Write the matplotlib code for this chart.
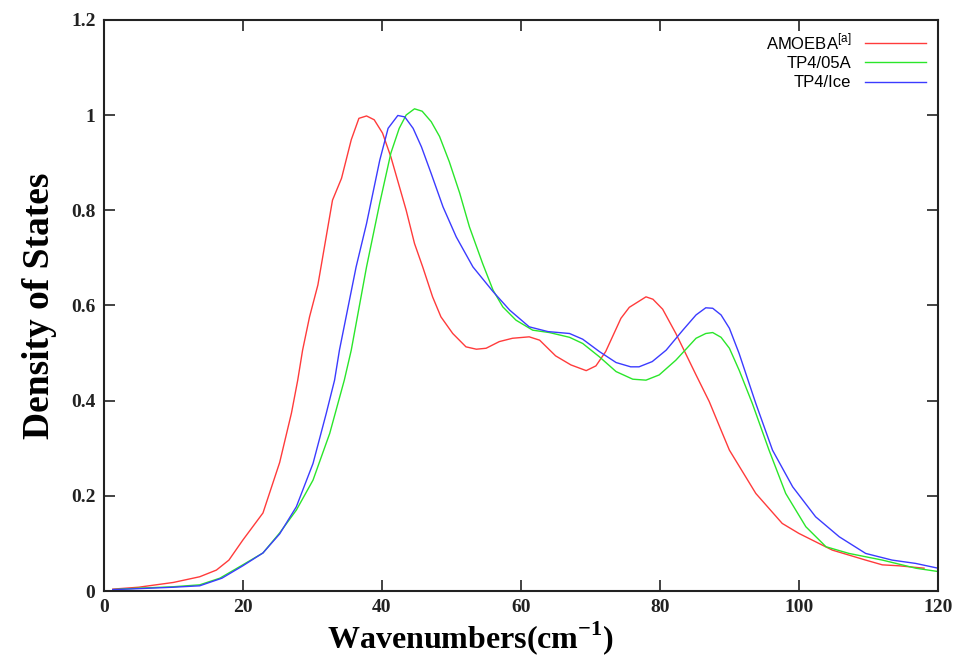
import matplotlib.pyplot as plt

plt.rcParams["mathtext.fontset"] = "custom"
plt.rcParams["mathtext.rm"] = "Liberation Sans"
plt.rcParams["mathtext.bf"] = "Liberation Serif:bold"

# wavenumber (cm^-1) / density of states
amoeba_x = [1.3, 5, 10, 13.8, 16.2, 18, 20, 22.9, 25.3, 27, 27.9, 28.6, 29.6, 30.8, 32.9, 34.2, 35.6, 36.7,
            37.8, 38.9, 40.1, 41.3, 43.5, 44.7, 45.9, 47.3, 48.5, 50.2, 52.1, 53.6, 55, 56.9, 58.8, 61.2,
            62.7, 65, 67.2, 69.4, 70.8, 72.2, 74.4, 75.6, 78, 79, 80.4, 82.3, 85.2, 87.1, 88.8, 90, 93.8,
            97.6, 100, 104.8, 109.6, 112, 114.4, 118]
amoeba_y = [0.004, 0.008, 0.018, 0.03, 0.044, 0.065, 0.107, 0.164, 0.27, 0.374, 0.443, 0.506, 0.576, 0.643,
            0.821, 0.867, 0.948, 0.993, 0.998, 0.99, 0.962, 0.912, 0.80, 0.73, 0.68, 0.618, 0.576, 0.541,
            0.513, 0.508, 0.51, 0.524, 0.531, 0.534, 0.527, 0.494, 0.475, 0.463, 0.473, 0.503, 0.573, 0.596,
            0.618, 0.613, 0.592, 0.541, 0.454, 0.398, 0.338, 0.296, 0.205, 0.142, 0.121, 0.086, 0.065, 0.055,
            0.053, 0.048]

tp4_05a_x = [1.3, 5, 10, 13.8, 16.7, 20, 22.9, 25.3, 27.7, 30.1, 32.5, 34.6, 35.6, 37.8, 39.7, 41.3, 42.5,
             43.5, 44.7, 45.8, 47.1, 48.3, 49.7, 51.2, 52.6, 54.5, 56, 57.4, 59.3, 61.7, 64.1, 67, 68.9,
             71.3, 73.7, 76.1, 78, 79.9, 82.3, 85.2, 86.6, 87.6, 88.8, 90, 91.4, 93.3, 95.7, 98.1, 101,
             103.9, 107.2, 112, 116.8, 120]
tp4_05a_y = [0.003, 0.006, 0.009, 0.013, 0.027, 0.055, 0.08, 0.122, 0.17, 0.233, 0.331, 0.443, 0.506, 0.681,
             0.815, 0.92, 0.972, 1.0, 1.013, 1.008, 0.986, 0.955, 0.902, 0.836, 0.765, 0.688, 0.632, 0.597,
             0.569, 0.548, 0.543, 0.533, 0.52, 0.492, 0.461, 0.445, 0.443, 0.454, 0.485, 0.531, 0.541,
             0.543, 0.533, 0.51, 0.464, 0.394, 0.296, 0.205, 0.135, 0.093, 0.079, 0.065, 0.048, 0.041]

tp4_ice_x = [1.3, 5, 10, 13.8, 17, 20, 22.9, 25.3, 27.7, 30.1, 32, 33.2, 33.9, 36.3, 37.8, 39.7, 40.9, 42.3,
             43.3, 44.5, 45.7, 47.1, 48.8, 50.7, 53.1, 56, 58.4, 61.2, 63.9, 67, 68.9, 71.3, 73.7, 75.8,
             77, 78.9, 80.9, 83.3, 85.2, 86.6, 87.6, 88.8, 90, 91.4, 93.8, 96.2, 99.1, 102.4, 105.8, 109.6,
             113.4, 116.8, 120]
tp4_ice_y = [0.003, 0.005, 0.008, 0.011, 0.027, 0.053, 0.08, 0.12, 0.177, 0.268, 0.373, 0.443, 0.506, 0.681,
             0.772, 0.905, 0.972, 0.999, 0.996, 0.972, 0.933, 0.877, 0.807, 0.744, 0.681, 0.629, 0.59,
             0.555, 0.545, 0.541, 0.529, 0.503, 0.48, 0.471, 0.471, 0.482, 0.506, 0.548, 0.58, 0.595,
             0.594, 0.58, 0.552, 0.499, 0.394, 0.296, 0.219, 0.156, 0.114, 0.079, 0.065, 0.058, 0.048]

xticks = [0, 20, 40, 60, 80, 100, 120]
yticks = [0, 0.2, 0.4, 0.6, 0.8, 1, 1.2]
ytick_labels = ["0", "0.2", "0.4", "0.6", "0.8", "1", "1.2"]

fig = plt.figure(figsize=(9.61, 6.60), dpi=100)
ax = fig.add_axes([0.108, 0.1045, 0.868, 0.8655])

ax.plot(amoeba_x, amoeba_y, color="#ff3b3b", lw=1.0, label=r"AMOEBA$^{\mathrm{[a]}}$")
ax.plot(tp4_05a_x, tp4_05a_y, color="#2ae62a", lw=1.0, label="TP4/05A")
ax.plot(tp4_ice_x, tp4_ice_y, color="#3b3bff", lw=1.0, label="TP4/Ice")

ax.set_xlim(0, 120)
ax.set_ylim(0, 1.2)
ax.set_xticks(xticks)
ax.set_yticks(yticks)
ax.set_yticklabels(ytick_labels)

tick_font = dict(family="Liberation Serif", weight="bold", size=14)
for lab in ax.get_xticklabels() + ax.get_yticklabels():
    lab.set_fontproperties(tick_font)

ax.tick_params(direction="in", length=8, width=1.2, top=True, right=True, pad=6, colors="#222222")
for s in ax.spines.values():
    s.set_linewidth(1.5)
    s.set_color("#222222")

ax.set_xlabel(r"Wavenumbers(cm$^{\mathbf{-1}}$)", fontsize=23, fontweight="bold", family="Liberation Serif",
              va="top")
ax.xaxis.set_label_coords(0.44, -0.05)
ax.set_ylabel("Density of States", fontsize=27, fontweight="bold", family="Liberation Serif", labelpad=10)

leg = ax.legend(loc="upper right", frameon=False, markerfirst=False, handlelength=3.7,
                prop=dict(family="Liberation Sans", size=12), labelspacing=0.25,
                borderaxespad=0.3, handletextpad=0.8)
for t in leg.get_texts():
    t.set_ha("right")

fig.savefig("out.png", dpi=100)
